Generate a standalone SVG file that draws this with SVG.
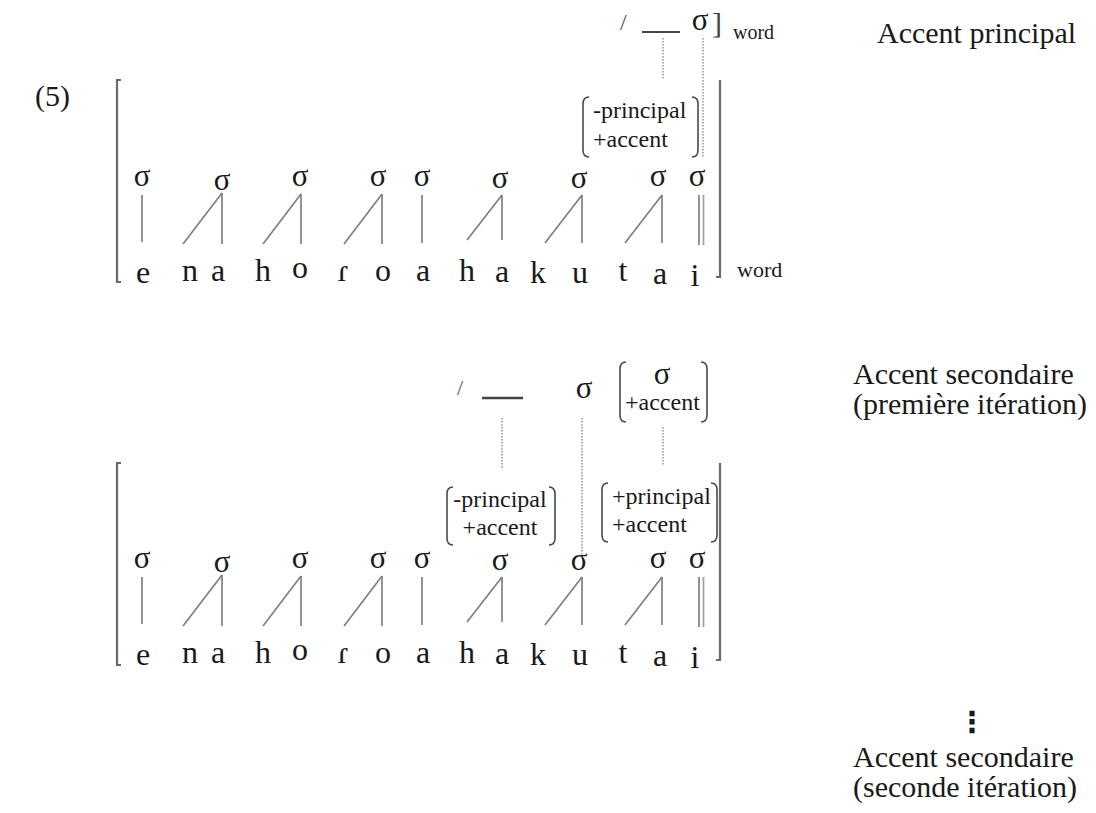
<svg xmlns="http://www.w3.org/2000/svg" width="1096" height="813" viewBox="0 0 1096 813">
<style>
text{font-family:"Liberation Serif","Times New Roman",serif;fill:#1a1a1a}
.t30{font-size:30px}
.seg{font-size:32px;text-anchor:middle}
.sig{font-size:31px;text-anchor:middle}
.feat{font-size:24px}
.sub{font-size:20px}
.ln{stroke:#808080;stroke-width:1.7;fill:none}
.dot{stroke:#9a9a9a;stroke-width:1.6;stroke-dasharray:1.6 1.4;fill:none}
.brk{stroke:#6a6a6a;stroke-width:2.2;fill:none}
.par{stroke:#4a4a4a;stroke-width:1.6;fill:none}
.bar{stroke:#444;stroke-width:2;fill:none}
</style>
<rect width="1096" height="813" fill="#fff"/>

<g id="label-5"><text class="t30" x="35" y="106">(5)</text></g>

<g id="caption-principal"><text class="t30" x="877" y="43">Accent principal</text></g>
<g id="caption-secondaire-1"><text class="t30" x="853" y="384">Accent secondaire</text><text class="t30" x="853" y="414">(première itération)</text></g>
<g id="ellipsis"><text x="972" y="732" style="font-family:'DejaVu Sans',sans-serif;font-size:29px;font-weight:bold;text-anchor:middle">⋮</text></g>
<g id="caption-secondaire-2"><text class="t30" x="853" y="767">Accent secondaire</text><text class="t30" x="853" y="797">(seconde itération)</text></g>

<!-- Diagram 1 rule -->
<g id="rule1">
<text x="620" y="30" style="font-size:24px;fill:#555">/</text>
<line class="bar" x1="642" y1="32" x2="680" y2="32"/>
<text class="sig" x="700" y="30">σ</text>
<text x="712" y="33" style="font-size:30px;fill:#444">]</text>
<text class="sub" x="733" y="39">word</text>
</g>

<g id="feat1">
<path class="par" d="M589,97 Q583,97 583,104 L583,150 Q583,157 589,157"/>
<path class="par" d="M692,97 Q698,97 698,104 L698,150 Q698,157 692,157"/>
<text class="feat" x="593" y="118">-principal</text>
<text class="feat" x="593" y="147">+accent</text>
</g>

<!-- Diagram 1 word brackets -->
<g id="word1-brackets">
<path class="brk" d="M121,80 L117,80 L117,282 L121,282"/>
<path class="brk" d="M720,80 L720,277 L716,277"/>
<text class="sub" x="737" y="277" style="font-size:22px">word</text>
</g>

<!-- Diagram 1 syllables -->
<g id="syll1">
<g id="d1-s1"><text class="sig" x="142" y="186">σ</text></g>
<g id="d1-s2"><text class="sig" x="222" y="190">σ</text></g>
<g id="d1-s3"><text class="sig" x="300" y="186">σ</text></g>
<g id="d1-s4"><text class="sig" x="378" y="186">σ</text></g>
<g id="d1-s5"><text class="sig" x="422" y="186">σ</text></g>
<g id="d1-s6"><text class="sig" x="500" y="188">σ</text></g>
<g id="d1-s7"><text class="sig" x="579" y="188">σ</text></g>
<g id="d1-s8"><text class="sig" x="658" y="186">σ</text></g>
<g id="d1-s9"><text class="sig" x="697" y="186">σ</text></g>
</g>
<g id="seg1">
<text class="seg" x="143" y="283">e</text>
<text class="seg" x="190" y="281">n</text>
<text class="seg" x="218" y="281">a</text>
<text class="seg" x="263" y="281">h</text>
<text class="seg" x="300" y="278">o</text>
<text class="seg" x="343" y="281">ɾ</text>
<text class="seg" x="383" y="281">o</text>
<text class="seg" x="423" y="281">a</text>
<text class="seg" x="467" y="281">h</text>
<text class="seg" x="502" y="282">a</text>
<text class="seg" x="538" y="283">k</text>
<text class="seg" x="580" y="283">u</text>
<text class="seg" x="623" y="281">t</text>
<text class="seg" x="660" y="284">a</text>
<text class="seg" x="695" y="286">i</text>
</g>

<!-- Diagram 2 rule -->
<g id="rule2">
<text x="457" y="395" style="font-size:22px;fill:#555">/</text>
<line class="bar" x1="482" y1="398" x2="523" y2="398" style="stroke-width:2.6"/>
<text class="sig" x="584" y="398">σ</text>
</g>
<g id="feat2-top">
<path class="par" d="M626,362 Q620,362 620,369 L620,415 Q620,422 626,422"/>
<path class="par" d="M701,362 Q707,362 707,369 L707,415 Q707,422 701,422"/>
<text class="sig" x="662" y="384">σ</text>
<text class="feat" x="625" y="410">+accent</text>
</g>
<g id="feat2-a">
<path class="par" d="M453,487 Q447,487 447,494 L447,538 Q447,545 453,545"/>
<path class="par" d="M549,487 Q555,487 555,494 L555,538 Q555,545 549,545"/>
<text class="feat" x="500" y="507" text-anchor="middle">-principal</text>
<text class="feat" x="500" y="535" text-anchor="middle">+accent</text>
</g>
<g id="feat2-b">
<path class="par" d="M608,483 Q602,483 602,490 L602,535 Q602,542 608,542"/>
<path class="par" d="M711,483 Q717,483 717,490 L717,535 Q717,542 711,542"/>
<text class="feat" x="612" y="504">+principal</text>
<text class="feat" x="612" y="532">+accent</text>
</g>

<g id="word2-brackets">
<path class="brk" d="M121,463 L117,463 L117,665 L121,665"/>
<path class="brk" d="M720,463 L720,660 L716,660"/>
</g>

<g id="syll2" transform="translate(0,382)">
<g id="d2-s1"><text class="sig" x="142" y="186">σ</text></g>
<g id="d2-s2"><text class="sig" x="222" y="190">σ</text></g>
<g id="d2-s3"><text class="sig" x="300" y="186">σ</text></g>
<g id="d2-s4"><text class="sig" x="378" y="186">σ</text></g>
<g id="d2-s5"><text class="sig" x="422" y="186">σ</text></g>
<g id="d2-s6"><text class="sig" x="500" y="188">σ</text></g>
<g id="d2-s7"><text class="sig" x="579" y="188">σ</text></g>
<g id="d2-s8"><text class="sig" x="658" y="186">σ</text></g>
<g id="d2-s9"><text class="sig" x="697" y="186">σ</text></g>
</g>
<g id="seg2" transform="translate(0,382)">
<text class="seg" x="143" y="283">e</text>
<text class="seg" x="190" y="281">n</text>
<text class="seg" x="218" y="281">a</text>
<text class="seg" x="263" y="281">h</text>
<text class="seg" x="300" y="278">o</text>
<text class="seg" x="343" y="281">ɾ</text>
<text class="seg" x="383" y="281">o</text>
<text class="seg" x="423" y="281">a</text>
<text class="seg" x="467" y="281">h</text>
<text class="seg" x="502" y="282">a</text>
<text class="seg" x="538" y="283">k</text>
<text class="seg" x="580" y="283">u</text>
<text class="seg" x="623" y="281">t</text>
<text class="seg" x="660" y="284">a</text>
<text class="seg" x="695" y="286">i</text>
</g>

<!-- Connectors -->
<g id="connectors">
<g id="conn1">
<line class="dot" x1="663" y1="38" x2="663" y2="80"/>
<line class="dot" x1="703" y1="38" x2="703" y2="158"/>
<line class="ln" x1="142" y1="195" x2="142" y2="242"/>
<line class="ln" x1="222" y1="193" x2="222" y2="244"/><line class="ln" x1="222" y1="193" x2="183" y2="244"/>
<line class="ln" x1="301" y1="194" x2="301" y2="244"/><line class="ln" x1="301" y1="194" x2="263" y2="244"/>
<line class="ln" x1="382" y1="194" x2="382" y2="244"/><line class="ln" x1="382" y1="194" x2="344" y2="244"/>
<line class="ln" x1="422" y1="195" x2="422" y2="243"/>
<line class="ln" x1="502" y1="195" x2="502" y2="240"/><line class="ln" x1="502" y1="195" x2="467" y2="240"/>
<line class="ln" x1="582" y1="195" x2="582" y2="243"/><line class="ln" x1="582" y1="195" x2="545" y2="243"/>
<line class="ln" x1="662" y1="195" x2="662" y2="243"/><line class="ln" x1="662" y1="195" x2="625" y2="243"/>
<line class="ln" x1="699" y1="195" x2="699" y2="245"/><line class="ln" x1="703.5" y1="195" x2="703.5" y2="245" style="stroke:#a0a0a0"/>
</g>
<g id="conn2">
<line class="dot" x1="502" y1="418" x2="502" y2="468"/>
<line class="dot" x1="582" y1="418" x2="582" y2="556"/>
<line class="dot" x1="663" y1="427" x2="663" y2="465"/>
<g transform="translate(0,382)">
<line class="ln" x1="142" y1="195" x2="142" y2="242"/>
<line class="ln" x1="222" y1="193" x2="222" y2="244"/><line class="ln" x1="222" y1="193" x2="183" y2="244"/>
<line class="ln" x1="301" y1="194" x2="301" y2="244"/><line class="ln" x1="301" y1="194" x2="263" y2="244"/>
<line class="ln" x1="382" y1="194" x2="382" y2="244"/><line class="ln" x1="382" y1="194" x2="344" y2="244"/>
<line class="ln" x1="422" y1="195" x2="422" y2="243"/>
<line class="ln" x1="502" y1="195" x2="502" y2="240"/><line class="ln" x1="502" y1="195" x2="467" y2="240"/>
<line class="ln" x1="582" y1="195" x2="582" y2="243"/><line class="ln" x1="582" y1="195" x2="545" y2="243"/>
<line class="ln" x1="662" y1="195" x2="662" y2="243"/><line class="ln" x1="662" y1="195" x2="625" y2="243"/>
<line class="ln" x1="699" y1="195" x2="699" y2="245"/><line class="ln" x1="703.5" y1="195" x2="703.5" y2="245" style="stroke:#a0a0a0"/>
</g>
</g>
</g>
</svg>
